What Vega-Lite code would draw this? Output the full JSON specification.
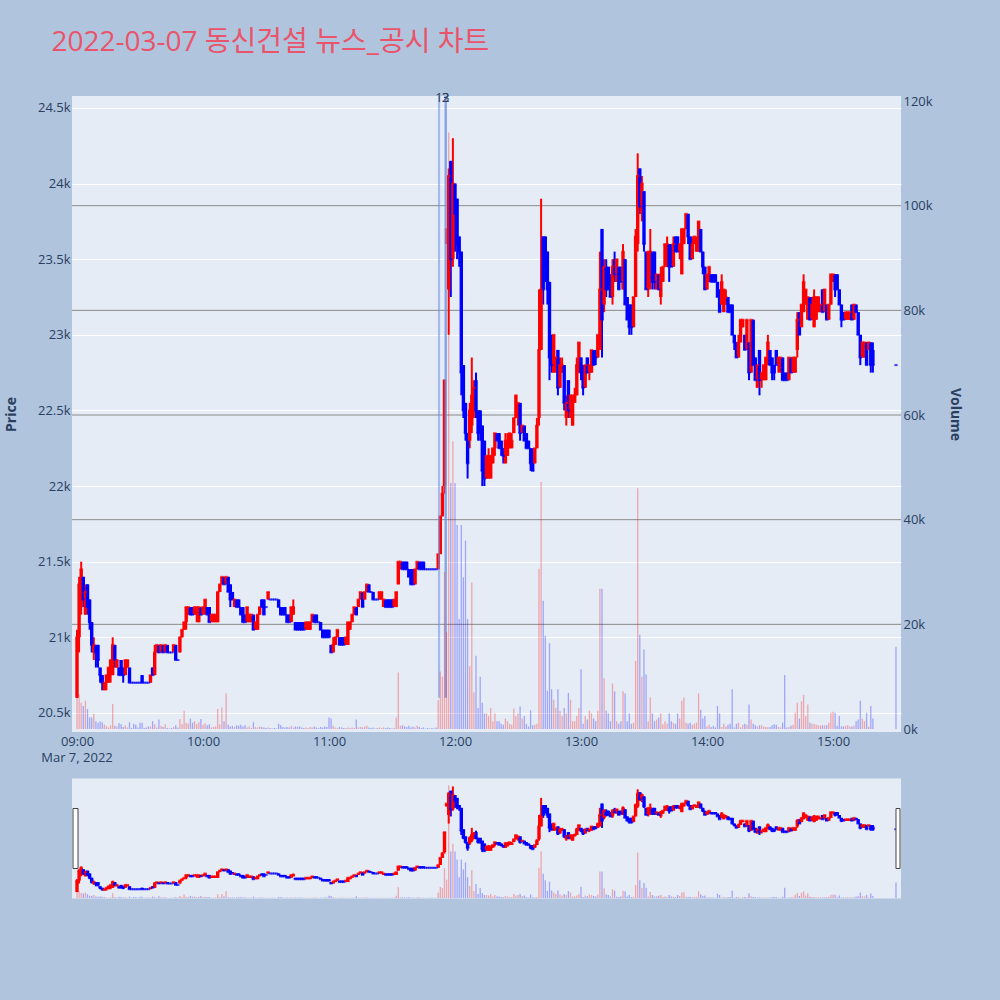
{
"$schema": "https://vega.github.io/schema/vega-lite/v6.json",
"background": "#B0C4DE",
"padding": {"left": 4, "top": 29, "right": 60, "bottom": 110},
"title": {"text": "2022-03-07 동신건설 뉴스_공시 차트", "anchor": "start", "frame": "bounds", "font": "Open Sans, Noto Sans CJK KR, sans-serif", "fontSize": 28, "fontWeight": "normal", "color": "#E9546A", "dx": 47, "dy": -1, "offset": 34},
"data": {"format": {"parse": {"t": "date:'%Y-%m-%d %H:%M'"}}, "values": [
{"t":"2022-03-07 09:00","o":20600,"h":21050,"l":20600,"c":21000,"v":12000},
{"t":"2022-03-07 09:01","o":21000,"h":21400,"l":20900,"c":21350,"v":6700},
{"t":"2022-03-07 09:02","o":21200,"h":21500,"l":21150,"c":21450,"v":5000},
{"t":"2022-03-07 09:03","o":21400,"h":21400,"l":21200,"c":21250,"v":4400},
{"t":"2022-03-07 09:04","o":21150,"h":21350,"l":21150,"c":21300,"v":5400},
{"t":"2022-03-07 09:05","o":21350,"h":21350,"l":21150,"c":21200,"v":3800},
{"t":"2022-03-07 09:06","o":21250,"h":21250,"l":21050,"c":21100,"v":2200},
{"t":"2022-03-07 09:07","o":21100,"h":21100,"l":20900,"c":20950,"v":2200},
{"t":"2022-03-07 09:08","o":20900,"h":21000,"l":20850,"c":20950,"v":2900},
{"t":"2022-03-07 09:09","o":20950,"h":20950,"l":20800,"c":20900,"v":1500},
{"t":"2022-03-07 09:10","o":20950,"h":20950,"l":20800,"c":20850,"v":1200},
{"t":"2022-03-07 09:11","o":20800,"h":20800,"l":20700,"c":20750,"v":1500},
{"t":"2022-03-07 09:12","o":20750,"h":20750,"l":20650,"c":20700,"v":1300},
{"t":"2022-03-07 09:13","o":20650,"h":20700,"l":20650,"c":20700,"v":900},
{"t":"2022-03-07 09:14","o":20700,"h":20750,"l":20650,"c":20750,"v":600},
{"t":"2022-03-07 09:15","o":20700,"h":20800,"l":20700,"c":20800,"v":300},
{"t":"2022-03-07 09:16","o":20750,"h":20850,"l":20700,"c":20850,"v":700},
{"t":"2022-03-07 09:17","o":20750,"h":21000,"l":20750,"c":20950,"v":4800},
{"t":"2022-03-07 09:18","o":20950,"h":20950,"l":20800,"c":20850,"v":600},
{"t":"2022-03-07 09:19","o":20800,"h":20850,"l":20800,"c":20850,"v":500},
{"t":"2022-03-07 09:20","o":20800,"h":20800,"l":20750,"c":20750,"v":1100},
{"t":"2022-03-07 09:21","o":20850,"h":20850,"l":20750,"c":20750,"v":900},
{"t":"2022-03-07 09:22","o":20800,"h":20800,"l":20700,"c":20750,"v":400},
{"t":"2022-03-07 09:23","o":20750,"h":20850,"l":20750,"c":20850,"v":700},
{"t":"2022-03-07 09:24","o":20800,"h":20850,"l":20800,"c":20850,"v":300},
{"t":"2022-03-07 09:25","o":20800,"h":20800,"l":20700,"c":20700,"v":1300},
{"t":"2022-03-07 09:26","o":20700,"h":20700,"l":20700,"c":20700,"v":200},
{"t":"2022-03-07 09:27","o":20700,"h":20700,"l":20700,"c":20700,"v":1000},
{"t":"2022-03-07 09:28","o":20700,"h":20700,"l":20700,"c":20700,"v":800},
{"t":"2022-03-07 09:29","o":20700,"h":20700,"l":20700,"c":20700,"v":300},
{"t":"2022-03-07 09:30","o":20700,"h":20700,"l":20700,"c":20700,"v":1200},
{"t":"2022-03-07 09:31","o":20750,"h":20750,"l":20700,"c":20700,"v":1200},
{"t":"2022-03-07 09:32","o":20700,"h":20700,"l":20700,"c":20700,"v":200},
{"t":"2022-03-07 09:33","o":20700,"h":20700,"l":20700,"c":20700,"v":300},
{"t":"2022-03-07 09:34","o":20700,"h":20700,"l":20700,"c":20700,"v":500},
{"t":"2022-03-07 09:35","o":20700,"h":20750,"l":20700,"c":20750,"v":500},
{"t":"2022-03-07 09:36","o":20800,"h":20800,"l":20750,"c":20750,"v":1500},
{"t":"2022-03-07 09:37","o":20750,"h":20950,"l":20750,"c":20900,"v":900},
{"t":"2022-03-07 09:38","o":20900,"h":20950,"l":20900,"c":20950,"v":300},
{"t":"2022-03-07 09:39","o":20950,"h":20950,"l":20900,"c":20900,"v":1800},
{"t":"2022-03-07 09:40","o":20900,"h":20950,"l":20900,"c":20950,"v":600},
{"t":"2022-03-07 09:41","o":20950,"h":20950,"l":20900,"c":20900,"v":400},
{"t":"2022-03-07 09:42","o":20900,"h":20950,"l":20900,"c":20950,"v":900},
{"t":"2022-03-07 09:43","o":20950,"h":20950,"l":20900,"c":20900,"v":200},
{"t":"2022-03-07 09:44","o":20900,"h":20900,"l":20900,"c":20900,"v":100},
{"t":"2022-03-07 09:45","o":20900,"h":20900,"l":20900,"c":20900,"v":200},
{"t":"2022-03-07 09:46","o":20900,"h":20950,"l":20900,"c":20950,"v":400},
{"t":"2022-03-07 09:47","o":20950,"h":20950,"l":20850,"c":20850,"v":700},
{"t":"2022-03-07 09:48","o":20850,"h":20850,"l":20850,"c":20850,"v":300},
{"t":"2022-03-07 09:49","o":20900,"h":21000,"l":20900,"c":21000,"v":1900},
{"t":"2022-03-07 09:50","o":21000,"h":21050,"l":21000,"c":21050,"v":900},
{"t":"2022-03-07 09:51","o":21050,"h":21100,"l":21050,"c":21100,"v":3500},
{"t":"2022-03-07 09:52","o":21100,"h":21200,"l":21050,"c":21200,"v":1200},
{"t":"2022-03-07 09:53","o":21150,"h":21200,"l":21150,"c":21200,"v":1000},
{"t":"2022-03-07 09:54","o":21200,"h":21200,"l":21150,"c":21150,"v":2000},
{"t":"2022-03-07 09:55","o":21200,"h":21200,"l":21150,"c":21150,"v":1200},
{"t":"2022-03-07 09:56","o":21150,"h":21200,"l":21150,"c":21200,"v":1500},
{"t":"2022-03-07 09:57","o":21150,"h":21200,"l":21100,"c":21200,"v":900},
{"t":"2022-03-07 09:58","o":21100,"h":21200,"l":21100,"c":21200,"v":1300},
{"t":"2022-03-07 09:59","o":21200,"h":21200,"l":21150,"c":21150,"v":1900},
{"t":"2022-03-07 10:00","o":21150,"h":21200,"l":21150,"c":21200,"v":800},
{"t":"2022-03-07 10:01","o":21200,"h":21250,"l":21150,"c":21250,"v":1100},
{"t":"2022-03-07 10:02","o":21200,"h":21200,"l":21150,"c":21150,"v":700},
{"t":"2022-03-07 10:03","o":21200,"h":21200,"l":21100,"c":21100,"v":900},
{"t":"2022-03-07 10:04","o":21100,"h":21150,"l":21100,"c":21150,"v":300},
{"t":"2022-03-07 10:05","o":21100,"h":21150,"l":21100,"c":21150,"v":400},
{"t":"2022-03-07 10:06","o":21100,"h":21150,"l":21100,"c":21150,"v":500},
{"t":"2022-03-07 10:07","o":21100,"h":21300,"l":21100,"c":21300,"v":3800},
{"t":"2022-03-07 10:08","o":21300,"h":21350,"l":21300,"c":21350,"v":900},
{"t":"2022-03-07 10:09","o":21350,"h":21400,"l":21350,"c":21400,"v":4100},
{"t":"2022-03-07 10:10","o":21400,"h":21400,"l":21350,"c":21350,"v":1500},
{"t":"2022-03-07 10:11","o":21350,"h":21400,"l":21350,"c":21400,"v":6800},
{"t":"2022-03-07 10:12","o":21400,"h":21400,"l":21300,"c":21300,"v":800},
{"t":"2022-03-07 10:13","o":21350,"h":21350,"l":21200,"c":21250,"v":500},
{"t":"2022-03-07 10:14","o":21300,"h":21300,"l":21250,"c":21250,"v":600},
{"t":"2022-03-07 10:15","o":21200,"h":21250,"l":21200,"c":21250,"v":400},
{"t":"2022-03-07 10:16","o":21250,"h":21250,"l":21200,"c":21200,"v":700},
{"t":"2022-03-07 10:17","o":21250,"h":21250,"l":21200,"c":21200,"v":600},
{"t":"2022-03-07 10:18","o":21200,"h":21200,"l":21150,"c":21150,"v":800},
{"t":"2022-03-07 10:19","o":21200,"h":21200,"l":21100,"c":21100,"v":500},
{"t":"2022-03-07 10:20","o":21150,"h":21150,"l":21100,"c":21100,"v":700},
{"t":"2022-03-07 10:21","o":21100,"h":21200,"l":21100,"c":21200,"v":300},
{"t":"2022-03-07 10:22","o":21100,"h":21150,"l":21100,"c":21150,"v":500},
{"t":"2022-03-07 10:23","o":21100,"h":21150,"l":21100,"c":21150,"v":200},
{"t":"2022-03-07 10:24","o":21150,"h":21150,"l":21050,"c":21050,"v":1300},
{"t":"2022-03-07 10:25","o":21050,"h":21100,"l":21050,"c":21100,"v":400},
{"t":"2022-03-07 10:26","o":21050,"h":21150,"l":21050,"c":21150,"v":300},
{"t":"2022-03-07 10:27","o":21150,"h":21200,"l":21150,"c":21200,"v":500},
{"t":"2022-03-07 10:28","o":21250,"h":21250,"l":21200,"c":21200,"v":400},
{"t":"2022-03-07 10:29","o":21250,"h":21250,"l":21150,"c":21150,"v":300},
{"t":"2022-03-07 10:30","o":21200,"h":21200,"l":21200,"c":21200,"v":200},
{"t":"2022-03-07 10:31","o":21250,"h":21300,"l":21250,"c":21300,"v":300},
{"t":"2022-03-07 10:32","o":21250,"h":21250,"l":21250,"c":21250,"v":200},
{"t":"2022-03-07 10:33","o":21250,"h":21250,"l":21250,"c":21250,"v":100},
{"t":"2022-03-07 10:34","o":21250,"h":21250,"l":21250,"c":21250,"v":200},
{"t":"2022-03-07 10:35","o":21250,"h":21250,"l":21250,"c":21250,"v":100},
{"t":"2022-03-07 10:36","o":21250,"h":21250,"l":21200,"c":21200,"v":1000},
{"t":"2022-03-07 10:37","o":21200,"h":21200,"l":21150,"c":21150,"v":700},
{"t":"2022-03-07 10:38","o":21200,"h":21200,"l":21150,"c":21150,"v":400},
{"t":"2022-03-07 10:39","o":21200,"h":21200,"l":21150,"c":21150,"v":300},
{"t":"2022-03-07 10:40","o":21150,"h":21150,"l":21100,"c":21100,"v":400},
{"t":"2022-03-07 10:41","o":21150,"h":21150,"l":21100,"c":21100,"v":300},
{"t":"2022-03-07 10:42","o":21100,"h":21200,"l":21100,"c":21200,"v":600},
{"t":"2022-03-07 10:43","o":21150,"h":21250,"l":21150,"c":21200,"v":300},
{"t":"2022-03-07 10:44","o":21100,"h":21100,"l":21050,"c":21050,"v":500},
{"t":"2022-03-07 10:45","o":21100,"h":21100,"l":21050,"c":21050,"v":400},
{"t":"2022-03-07 10:46","o":21100,"h":21100,"l":21050,"c":21050,"v":500},
{"t":"2022-03-07 10:47","o":21100,"h":21100,"l":21050,"c":21050,"v":300},
{"t":"2022-03-07 10:48","o":21100,"h":21100,"l":21050,"c":21050,"v":200},
{"t":"2022-03-07 10:49","o":21050,"h":21100,"l":21050,"c":21100,"v":300},
{"t":"2022-03-07 10:50","o":21050,"h":21100,"l":21050,"c":21100,"v":200},
{"t":"2022-03-07 10:51","o":21050,"h":21100,"l":21050,"c":21100,"v":400},
{"t":"2022-03-07 10:52","o":21100,"h":21150,"l":21100,"c":21150,"v":300},
{"t":"2022-03-07 10:53","o":21150,"h":21150,"l":21100,"c":21100,"v":500},
{"t":"2022-03-07 10:54","o":21150,"h":21150,"l":21100,"c":21100,"v":300},
{"t":"2022-03-07 10:55","o":21100,"h":21100,"l":21100,"c":21100,"v":200},
{"t":"2022-03-07 10:56","o":21100,"h":21100,"l":21050,"c":21050,"v":400},
{"t":"2022-03-07 10:57","o":21050,"h":21050,"l":21000,"c":21000,"v":300},
{"t":"2022-03-07 10:58","o":21050,"h":21050,"l":21000,"c":21000,"v":500},
{"t":"2022-03-07 10:59","o":21050,"h":21050,"l":21000,"c":21000,"v":400},
{"t":"2022-03-07 11:00","o":21050,"h":21050,"l":21000,"c":21000,"v":2200},
{"t":"2022-03-07 11:01","o":20950,"h":20950,"l":20900,"c":20900,"v":2000},
{"t":"2022-03-07 11:02","o":20900,"h":21000,"l":20900,"c":20950,"v":600},
{"t":"2022-03-07 11:03","o":20950,"h":21000,"l":20950,"c":21000,"v":300},
{"t":"2022-03-07 11:04","o":21000,"h":21050,"l":21000,"c":21050,"v":200},
{"t":"2022-03-07 11:05","o":21000,"h":21000,"l":20950,"c":20950,"v":400},
{"t":"2022-03-07 11:06","o":21000,"h":21000,"l":20950,"c":20950,"v":300},
{"t":"2022-03-07 11:07","o":21000,"h":21000,"l":20950,"c":20950,"v":200},
{"t":"2022-03-07 11:08","o":20950,"h":21000,"l":20950,"c":21000,"v":200},
{"t":"2022-03-07 11:09","o":20950,"h":21100,"l":20950,"c":21100,"v":300},
{"t":"2022-03-07 11:10","o":21050,"h":21100,"l":21050,"c":21100,"v":200},
{"t":"2022-03-07 11:11","o":21100,"h":21150,"l":21100,"c":21150,"v":300},
{"t":"2022-03-07 11:12","o":21150,"h":21200,"l":21150,"c":21200,"v":200},
{"t":"2022-03-07 11:13","o":21200,"h":21200,"l":21150,"c":21150,"v":1800},
{"t":"2022-03-07 11:14","o":21200,"h":21250,"l":21200,"c":21250,"v":300},
{"t":"2022-03-07 11:15","o":21250,"h":21300,"l":21250,"c":21300,"v":400},
{"t":"2022-03-07 11:16","o":21300,"h":21300,"l":21200,"c":21200,"v":300},
{"t":"2022-03-07 11:17","o":21250,"h":21300,"l":21250,"c":21300,"v":500},
{"t":"2022-03-07 11:18","o":21300,"h":21350,"l":21300,"c":21350,"v":600},
{"t":"2022-03-07 11:19","o":21350,"h":21350,"l":21300,"c":21300,"v":300},
{"t":"2022-03-07 11:20","o":21300,"h":21300,"l":21300,"c":21300,"v":200},
{"t":"2022-03-07 11:21","o":21300,"h":21300,"l":21250,"c":21250,"v":300},
{"t":"2022-03-07 11:22","o":21250,"h":21250,"l":21250,"c":21250,"v":100},
{"t":"2022-03-07 11:23","o":21250,"h":21250,"l":21250,"c":21250,"v":200},
{"t":"2022-03-07 11:24","o":21250,"h":21300,"l":21250,"c":21300,"v":300},
{"t":"2022-03-07 11:25","o":21250,"h":21300,"l":21250,"c":21300,"v":200},
{"t":"2022-03-07 11:26","o":21200,"h":21250,"l":21200,"c":21250,"v":300},
{"t":"2022-03-07 11:27","o":21250,"h":21250,"l":21200,"c":21200,"v":200},
{"t":"2022-03-07 11:28","o":21250,"h":21250,"l":21200,"c":21200,"v":300},
{"t":"2022-03-07 11:29","o":21250,"h":21250,"l":21200,"c":21200,"v":200},
{"t":"2022-03-07 11:30","o":21250,"h":21250,"l":21200,"c":21200,"v":100},
{"t":"2022-03-07 11:31","o":21200,"h":21250,"l":21200,"c":21250,"v":200},
{"t":"2022-03-07 11:32","o":21200,"h":21300,"l":21200,"c":21300,"v":2200},
{"t":"2022-03-07 11:33","o":21350,"h":21500,"l":21350,"c":21500,"v":10800},
{"t":"2022-03-07 11:34","o":21450,"h":21500,"l":21450,"c":21500,"v":600},
{"t":"2022-03-07 11:35","o":21500,"h":21500,"l":21450,"c":21450,"v":700},
{"t":"2022-03-07 11:36","o":21500,"h":21500,"l":21450,"c":21450,"v":500},
{"t":"2022-03-07 11:37","o":21500,"h":21500,"l":21450,"c":21450,"v":400},
{"t":"2022-03-07 11:38","o":21450,"h":21450,"l":21400,"c":21400,"v":600},
{"t":"2022-03-07 11:39","o":21450,"h":21450,"l":21350,"c":21350,"v":300},
{"t":"2022-03-07 11:40","o":21450,"h":21450,"l":21350,"c":21350,"v":500},
{"t":"2022-03-07 11:41","o":21350,"h":21450,"l":21350,"c":21450,"v":300},
{"t":"2022-03-07 11:42","o":21450,"h":21500,"l":21450,"c":21500,"v":600},
{"t":"2022-03-07 11:43","o":21500,"h":21500,"l":21450,"c":21450,"v":400},
{"t":"2022-03-07 11:44","o":21500,"h":21500,"l":21450,"c":21450,"v":200},
{"t":"2022-03-07 11:45","o":21500,"h":21500,"l":21450,"c":21450,"v":300},
{"t":"2022-03-07 11:46","o":21450,"h":21450,"l":21450,"c":21450,"v":100},
{"t":"2022-03-07 11:47","o":21450,"h":21450,"l":21450,"c":21450,"v":200},
{"t":"2022-03-07 11:48","o":21450,"h":21450,"l":21450,"c":21450,"v":100},
{"t":"2022-03-07 11:49","o":21450,"h":21450,"l":21450,"c":21450,"v":200},
{"t":"2022-03-07 11:50","o":21450,"h":21450,"l":21450,"c":21450,"v":100},
{"t":"2022-03-07 11:51","o":21450,"h":21450,"l":21450,"c":21450,"v":300},
{"t":"2022-03-07 11:52","o":21450,"h":21550,"l":21450,"c":21550,"v":5500},
{"t":"2022-03-07 11:53","o":21550,"h":21800,"l":21550,"c":21800,"v":11000},
{"t":"2022-03-07 11:54","o":21800,"h":22000,"l":21800,"c":21950,"v":10000},
{"t":"2022-03-07 11:55","o":22000,"h":22700,"l":21950,"c":22700,"v":30000},
{"t":"2022-03-07 11:56","o":23600,"h":23700,"l":23600,"c":23700,"v":18500},
{"t":"2022-03-07 11:57","o":23300,"h":24100,"l":23000,"c":24050,"v":114000},
{"t":"2022-03-07 11:58","o":24150,"h":24150,"l":23250,"c":23500,"v":47000},
{"t":"2022-03-07 11:59","o":23500,"h":24300,"l":23450,"c":24000,"v":55000},
{"t":"2022-03-07 12:00","o":24000,"h":24000,"l":23550,"c":23800,"v":47000},
{"t":"2022-03-07 12:01","o":23900,"h":23900,"l":23500,"c":23600,"v":39000},
{"t":"2022-03-07 12:02","o":23650,"h":23650,"l":23450,"c":23550,"v":21000},
{"t":"2022-03-07 12:03","o":23550,"h":23550,"l":22600,"c":22750,"v":39000},
{"t":"2022-03-07 12:04","o":22800,"h":22800,"l":22450,"c":22500,"v":29000},
{"t":"2022-03-07 12:05","o":22550,"h":22550,"l":22300,"c":22350,"v":36000},
{"t":"2022-03-07 12:06","o":22350,"h":22350,"l":22050,"c":22150,"v":21000},
{"t":"2022-03-07 12:07","o":22300,"h":22550,"l":22250,"c":22500,"v":12000},
{"t":"2022-03-07 12:08","o":22400,"h":22850,"l":22350,"c":22600,"v":28000},
{"t":"2022-03-07 12:09","o":22500,"h":22700,"l":22450,"c":22650,"v":7000},
{"t":"2022-03-07 12:10","o":22700,"h":22750,"l":22450,"c":22500,"v":14000},
{"t":"2022-03-07 12:11","o":22500,"h":22500,"l":22300,"c":22350,"v":4000},
{"t":"2022-03-07 12:12","o":22500,"h":22500,"l":22300,"c":22350,"v":10000},
{"t":"2022-03-07 12:13","o":22400,"h":22400,"l":22000,"c":22100,"v":5000},
{"t":"2022-03-07 12:14","o":22300,"h":22300,"l":22000,"c":22050,"v":3000},
{"t":"2022-03-07 12:15","o":22050,"h":22200,"l":22050,"c":22200,"v":3000},
{"t":"2022-03-07 12:16","o":22050,"h":22250,"l":22050,"c":22200,"v":2500},
{"t":"2022-03-07 12:17","o":22050,"h":22200,"l":22050,"c":22200,"v":4000},
{"t":"2022-03-07 12:18","o":22150,"h":22250,"l":22150,"c":22250,"v":1500},
{"t":"2022-03-07 12:19","o":22250,"h":22350,"l":22200,"c":22350,"v":3000},
{"t":"2022-03-07 12:20","o":22350,"h":22350,"l":22300,"c":22300,"v":1500},
{"t":"2022-03-07 12:21","o":22350,"h":22350,"l":22250,"c":22250,"v":1500},
{"t":"2022-03-07 12:22","o":22300,"h":22300,"l":22200,"c":22250,"v":1000},
{"t":"2022-03-07 12:23","o":22250,"h":22250,"l":22150,"c":22200,"v":800},
{"t":"2022-03-07 12:24","o":22150,"h":22350,"l":22150,"c":22300,"v":2000},
{"t":"2022-03-07 12:25","o":22200,"h":22350,"l":22200,"c":22300,"v":1500},
{"t":"2022-03-07 12:26","o":22250,"h":22350,"l":22250,"c":22350,"v":1000},
{"t":"2022-03-07 12:27","o":22250,"h":22350,"l":22250,"c":22300,"v":800},
{"t":"2022-03-07 12:28","o":22350,"h":22450,"l":22350,"c":22450,"v":3900},
{"t":"2022-03-07 12:29","o":22450,"h":22600,"l":22450,"c":22600,"v":2500},
{"t":"2022-03-07 12:30","o":22450,"h":22550,"l":22400,"c":22550,"v":3000},
{"t":"2022-03-07 12:31","o":22550,"h":22550,"l":22300,"c":22350,"v":4300},
{"t":"2022-03-07 12:32","o":22350,"h":22400,"l":22350,"c":22400,"v":2000},
{"t":"2022-03-07 12:33","o":22400,"h":22400,"l":22300,"c":22300,"v":2500},
{"t":"2022-03-07 12:34","o":22350,"h":22350,"l":22250,"c":22250,"v":1000},
{"t":"2022-03-07 12:35","o":22300,"h":22300,"l":22250,"c":22250,"v":500},
{"t":"2022-03-07 12:36","o":22250,"h":22250,"l":22100,"c":22150,"v":3600},
{"t":"2022-03-07 12:37","o":22200,"h":22250,"l":22100,"c":22100,"v":700},
{"t":"2022-03-07 12:38","o":22150,"h":22250,"l":22150,"c":22250,"v":800},
{"t":"2022-03-07 12:39","o":22250,"h":22450,"l":22250,"c":22400,"v":1000},
{"t":"2022-03-07 12:40","o":22450,"h":23300,"l":22400,"c":22900,"v":30600},
{"t":"2022-03-07 12:41","o":22900,"h":23900,"l":22900,"c":23300,"v":47200},
{"t":"2022-03-07 12:42","o":23650,"h":23650,"l":23200,"c":23300,"v":24500},
{"t":"2022-03-07 12:43","o":23650,"h":23650,"l":23350,"c":23450,"v":17800},
{"t":"2022-03-07 12:44","o":23550,"h":23550,"l":23200,"c":23300,"v":7300},
{"t":"2022-03-07 12:45","o":23350,"h":23350,"l":22700,"c":22850,"v":16400},
{"t":"2022-03-07 12:46","o":23000,"h":23000,"l":22750,"c":22800,"v":7600},
{"t":"2022-03-07 12:47","o":22750,"h":23000,"l":22750,"c":23000,"v":5600},
{"t":"2022-03-07 12:48","o":22800,"h":22850,"l":22750,"c":22850,"v":4000},
{"t":"2022-03-07 12:49","o":22900,"h":22900,"l":22600,"c":22650,"v":7600},
{"t":"2022-03-07 12:50","o":22650,"h":22850,"l":22650,"c":22800,"v":3500},
{"t":"2022-03-07 12:51","o":22750,"h":22850,"l":22750,"c":22800,"v":2500},
{"t":"2022-03-07 12:52","o":22800,"h":22800,"l":22500,"c":22550,"v":4000},
{"t":"2022-03-07 12:53","o":22450,"h":22600,"l":22400,"c":22550,"v":3000},
{"t":"2022-03-07 12:54","o":22700,"h":22700,"l":22450,"c":22500,"v":6900},
{"t":"2022-03-07 12:55","o":22450,"h":22600,"l":22450,"c":22600,"v":5600},
{"t":"2022-03-07 12:56","o":22400,"h":22600,"l":22400,"c":22600,"v":1500},
{"t":"2022-03-07 12:57","o":22550,"h":22650,"l":22550,"c":22600,"v":1500},
{"t":"2022-03-07 12:58","o":22600,"h":22850,"l":22600,"c":22800,"v":2500},
{"t":"2022-03-07 12:59","o":22750,"h":22950,"l":22750,"c":22950,"v":4000},
{"t":"2022-03-07 13:00","o":22850,"h":22850,"l":22700,"c":22750,"v":11400},
{"t":"2022-03-07 13:01","o":22800,"h":22800,"l":22600,"c":22650,"v":1000},
{"t":"2022-03-07 13:02","o":22650,"h":22800,"l":22650,"c":22800,"v":2500},
{"t":"2022-03-07 13:03","o":22850,"h":22850,"l":22750,"c":22750,"v":1800},
{"t":"2022-03-07 13:04","o":22750,"h":22800,"l":22700,"c":22800,"v":3500},
{"t":"2022-03-07 13:05","o":22750,"h":22900,"l":22750,"c":22900,"v":3000},
{"t":"2022-03-07 13:06","o":22900,"h":22900,"l":22800,"c":22800,"v":2000},
{"t":"2022-03-07 13:07","o":22900,"h":22900,"l":22800,"c":22850,"v":1500},
{"t":"2022-03-07 13:08","o":22850,"h":23000,"l":22850,"c":23000,"v":3500},
{"t":"2022-03-07 13:09","o":22900,"h":23550,"l":22900,"c":23300,"v":26800},
{"t":"2022-03-07 13:10","o":23700,"h":23700,"l":22850,"c":23100,"v":26800},
{"t":"2022-03-07 13:11","o":23200,"h":23500,"l":23150,"c":23450,"v":9700},
{"t":"2022-03-07 13:12","o":23450,"h":23500,"l":23250,"c":23300,"v":3500},
{"t":"2022-03-07 13:13","o":23450,"h":23450,"l":23300,"c":23300,"v":3000},
{"t":"2022-03-07 13:14","o":23400,"h":23400,"l":23250,"c":23250,"v":1500},
{"t":"2022-03-07 13:15","o":23250,"h":23500,"l":23200,"c":23450,"v":8700},
{"t":"2022-03-07 13:16","o":23500,"h":23550,"l":23350,"c":23400,"v":7200},
{"t":"2022-03-07 13:17","o":23350,"h":23500,"l":23350,"c":23500,"v":1500},
{"t":"2022-03-07 13:18","o":23450,"h":23450,"l":23300,"c":23300,"v":1000},
{"t":"2022-03-07 13:19","o":23450,"h":23450,"l":23350,"c":23350,"v":1500},
{"t":"2022-03-07 13:20","o":23300,"h":23600,"l":23300,"c":23550,"v":7200},
{"t":"2022-03-07 13:21","o":23500,"h":23500,"l":23200,"c":23200,"v":6800},
{"t":"2022-03-07 13:22","o":23250,"h":23250,"l":23100,"c":23100,"v":1500},
{"t":"2022-03-07 13:23","o":23200,"h":23200,"l":23000,"c":23050,"v":3000},
{"t":"2022-03-07 13:24","o":23200,"h":23200,"l":23000,"c":23050,"v":1000},
{"t":"2022-03-07 13:25","o":23050,"h":23250,"l":23050,"c":23250,"v":1200},
{"t":"2022-03-07 13:26","o":23250,"h":23700,"l":23250,"c":23650,"v":13000},
{"t":"2022-03-07 13:27","o":23600,"h":24200,"l":23550,"c":24050,"v":46000},
{"t":"2022-03-07 13:28","o":24100,"h":24100,"l":23800,"c":23850,"v":18000},
{"t":"2022-03-07 13:29","o":23800,"h":24050,"l":23750,"c":24000,"v":10000},
{"t":"2022-03-07 13:30","o":23950,"h":23950,"l":23550,"c":23600,"v":15200},
{"t":"2022-03-07 13:31","o":23550,"h":23550,"l":23300,"c":23300,"v":10400},
{"t":"2022-03-07 13:32","o":23300,"h":23550,"l":23250,"c":23550,"v":1500},
{"t":"2022-03-07 13:33","o":23400,"h":23700,"l":23300,"c":23550,"v":6000},
{"t":"2022-03-07 13:34","o":23550,"h":23550,"l":23300,"c":23350,"v":3000},
{"t":"2022-03-07 13:35","o":23550,"h":23550,"l":23300,"c":23350,"v":1500},
{"t":"2022-03-07 13:36","o":23300,"h":23400,"l":23300,"c":23400,"v":1800},
{"t":"2022-03-07 13:37","o":23400,"h":23400,"l":23300,"c":23300,"v":2200},
{"t":"2022-03-07 13:38","o":23250,"h":23450,"l":23200,"c":23400,"v":3000},
{"t":"2022-03-07 13:39","o":23350,"h":23450,"l":23350,"c":23450,"v":900},
{"t":"2022-03-07 13:40","o":23450,"h":23600,"l":23450,"c":23600,"v":1500},
{"t":"2022-03-07 13:41","o":23450,"h":23650,"l":23450,"c":23600,"v":1000},
{"t":"2022-03-07 13:42","o":23600,"h":23600,"l":23350,"c":23450,"v":3000},
{"t":"2022-03-07 13:43","o":23600,"h":23600,"l":23450,"c":23450,"v":1500},
{"t":"2022-03-07 13:44","o":23450,"h":23650,"l":23450,"c":23600,"v":1200},
{"t":"2022-03-07 13:45","o":23650,"h":23650,"l":23550,"c":23550,"v":1000},
{"t":"2022-03-07 13:46","o":23650,"h":23650,"l":23550,"c":23550,"v":3000},
{"t":"2022-03-07 13:47","o":23550,"h":23600,"l":23500,"c":23600,"v":2000},
{"t":"2022-03-07 13:48","o":23400,"h":23700,"l":23400,"c":23700,"v":5400},
{"t":"2022-03-07 13:49","o":23600,"h":23700,"l":23600,"c":23700,"v":6000},
{"t":"2022-03-07 13:50","o":23700,"h":23800,"l":23700,"c":23800,"v":1200},
{"t":"2022-03-07 13:51","o":23800,"h":23800,"l":23600,"c":23650,"v":1000},
{"t":"2022-03-07 13:52","o":23650,"h":23650,"l":23500,"c":23500,"v":1200},
{"t":"2022-03-07 13:53","o":23500,"h":23650,"l":23500,"c":23600,"v":800},
{"t":"2022-03-07 13:54","o":23600,"h":23650,"l":23600,"c":23650,"v":1000},
{"t":"2022-03-07 13:55","o":23550,"h":23650,"l":23550,"c":23600,"v":1200},
{"t":"2022-03-07 13:56","o":23550,"h":23750,"l":23550,"c":23750,"v":6800},
{"t":"2022-03-07 13:57","o":23700,"h":23700,"l":23550,"c":23550,"v":3700},
{"t":"2022-03-07 13:58","o":23550,"h":23550,"l":23400,"c":23450,"v":2000},
{"t":"2022-03-07 13:59","o":23450,"h":23450,"l":23300,"c":23300,"v":2500},
{"t":"2022-03-07 14:00","o":23300,"h":23400,"l":23300,"c":23400,"v":500},
{"t":"2022-03-07 14:01","o":23350,"h":23450,"l":23350,"c":23450,"v":800},
{"t":"2022-03-07 14:02","o":23400,"h":23400,"l":23350,"c":23350,"v":400},
{"t":"2022-03-07 14:03","o":23400,"h":23400,"l":23350,"c":23350,"v":600},
{"t":"2022-03-07 14:04","o":23400,"h":23400,"l":23350,"c":23350,"v":300},
{"t":"2022-03-07 14:05","o":23350,"h":23350,"l":23250,"c":23250,"v":4400},
{"t":"2022-03-07 14:06","o":23300,"h":23300,"l":23150,"c":23150,"v":3000},
{"t":"2022-03-07 14:07","o":23200,"h":23400,"l":23200,"c":23350,"v":400},
{"t":"2022-03-07 14:08","o":23150,"h":23300,"l":23150,"c":23300,"v":1000},
{"t":"2022-03-07 14:09","o":23200,"h":23300,"l":23200,"c":23250,"v":500},
{"t":"2022-03-07 14:10","o":23250,"h":23250,"l":23150,"c":23150,"v":800},
{"t":"2022-03-07 14:11","o":23200,"h":23200,"l":23150,"c":23150,"v":1000},
{"t":"2022-03-07 14:12","o":23200,"h":23200,"l":23000,"c":23000,"v":7600},
{"t":"2022-03-07 14:13","o":23000,"h":23000,"l":22900,"c":22950,"v":300},
{"t":"2022-03-07 14:14","o":22950,"h":22950,"l":22850,"c":22850,"v":1000},
{"t":"2022-03-07 14:15","o":22850,"h":23000,"l":22850,"c":22950,"v":1200},
{"t":"2022-03-07 14:16","o":22950,"h":23100,"l":22950,"c":23100,"v":300},
{"t":"2022-03-07 14:17","o":23050,"h":23100,"l":23050,"c":23100,"v":800},
{"t":"2022-03-07 14:18","o":23000,"h":23000,"l":22900,"c":22900,"v":1000},
{"t":"2022-03-07 14:19","o":22900,"h":23100,"l":22900,"c":23100,"v":800},
{"t":"2022-03-07 14:20","o":22950,"h":22950,"l":22700,"c":22750,"v":4700},
{"t":"2022-03-07 14:21","o":22750,"h":23100,"l":22750,"c":23100,"v":1800},
{"t":"2022-03-07 14:22","o":23100,"h":23100,"l":22800,"c":22800,"v":1000},
{"t":"2022-03-07 14:23","o":22850,"h":22850,"l":22700,"c":22700,"v":700},
{"t":"2022-03-07 14:24","o":22650,"h":22800,"l":22650,"c":22800,"v":500},
{"t":"2022-03-07 14:25","o":22900,"h":22900,"l":22600,"c":22700,"v":700},
{"t":"2022-03-07 14:26","o":22700,"h":22750,"l":22650,"c":22750,"v":700},
{"t":"2022-03-07 14:27","o":22700,"h":22800,"l":22700,"c":22800,"v":500},
{"t":"2022-03-07 14:28","o":22700,"h":22850,"l":22700,"c":22850,"v":400},
{"t":"2022-03-07 14:29","o":22800,"h":23000,"l":22800,"c":22950,"v":400},
{"t":"2022-03-07 14:30","o":22900,"h":22900,"l":22800,"c":22800,"v":400},
{"t":"2022-03-07 14:31","o":22850,"h":22850,"l":22700,"c":22750,"v":700},
{"t":"2022-03-07 14:32","o":22800,"h":22800,"l":22700,"c":22750,"v":900},
{"t":"2022-03-07 14:33","o":22900,"h":22900,"l":22800,"c":22800,"v":800},
{"t":"2022-03-07 14:34","o":22800,"h":22850,"l":22750,"c":22850,"v":400},
{"t":"2022-03-07 14:35","o":22750,"h":22850,"l":22750,"c":22850,"v":300},
{"t":"2022-03-07 14:36","o":22850,"h":22850,"l":22700,"c":22700,"v":1200},
{"t":"2022-03-07 14:37","o":22750,"h":22750,"l":22700,"c":22700,"v":10300},
{"t":"2022-03-07 14:38","o":22750,"h":22750,"l":22700,"c":22700,"v":300},
{"t":"2022-03-07 14:39","o":22700,"h":22850,"l":22700,"c":22850,"v":400},
{"t":"2022-03-07 14:40","o":22850,"h":22850,"l":22750,"c":22750,"v":600},
{"t":"2022-03-07 14:41","o":22750,"h":22850,"l":22750,"c":22850,"v":800},
{"t":"2022-03-07 14:42","o":22750,"h":22850,"l":22750,"c":22850,"v":3100},
{"t":"2022-03-07 14:43","o":22900,"h":23150,"l":22850,"c":23100,"v":5000},
{"t":"2022-03-07 14:44","o":23150,"h":23150,"l":23000,"c":23000,"v":2000},
{"t":"2022-03-07 14:45","o":23050,"h":23200,"l":23050,"c":23200,"v":5300},
{"t":"2022-03-07 14:46","o":23150,"h":23400,"l":23150,"c":23350,"v":6500},
{"t":"2022-03-07 14:47","o":23200,"h":23300,"l":23200,"c":23300,"v":2500},
{"t":"2022-03-07 14:48","o":23100,"h":23250,"l":23100,"c":23250,"v":4700},
{"t":"2022-03-07 14:49","o":23250,"h":23250,"l":23100,"c":23100,"v":1200},
{"t":"2022-03-07 14:50","o":23100,"h":23250,"l":23100,"c":23200,"v":1000},
{"t":"2022-03-07 14:51","o":23050,"h":23300,"l":23050,"c":23250,"v":1000},
{"t":"2022-03-07 14:52","o":23100,"h":23250,"l":23100,"c":23250,"v":800},
{"t":"2022-03-07 14:53","o":23150,"h":23250,"l":23150,"c":23250,"v":700},
{"t":"2022-03-07 14:54","o":23150,"h":23200,"l":23150,"c":23200,"v":700},
{"t":"2022-03-07 14:55","o":23300,"h":23300,"l":23150,"c":23150,"v":700},
{"t":"2022-03-07 14:56","o":23150,"h":23300,"l":23150,"c":23300,"v":700},
{"t":"2022-03-07 14:57","o":23200,"h":23200,"l":23100,"c":23100,"v":700},
{"t":"2022-03-07 14:58","o":23100,"h":23200,"l":23100,"c":23200,"v":1200},
{"t":"2022-03-07 14:59","o":23200,"h":23400,"l":23200,"c":23400,"v":3100},
{"t":"2022-03-07 15:00","o":23350,"h":23400,"l":23350,"c":23400,"v":3300},
{"t":"2022-03-07 15:01","o":23400,"h":23400,"l":23250,"c":23300,"v":3100},
{"t":"2022-03-07 15:02","o":23400,"h":23400,"l":23300,"c":23300,"v":600},
{"t":"2022-03-07 15:03","o":23300,"h":23300,"l":23200,"c":23200,"v":2500},
{"t":"2022-03-07 15:04","o":23200,"h":23200,"l":23050,"c":23100,"v":500},
{"t":"2022-03-07 15:05","o":23150,"h":23150,"l":23100,"c":23100,"v":500},
{"t":"2022-03-07 15:06","o":23100,"h":23150,"l":23100,"c":23150,"v":600},
{"t":"2022-03-07 15:07","o":23100,"h":23150,"l":23100,"c":23150,"v":700},
{"t":"2022-03-07 15:08","o":23100,"h":23150,"l":23100,"c":23150,"v":500},
{"t":"2022-03-07 15:09","o":23200,"h":23200,"l":23100,"c":23100,"v":500},
{"t":"2022-03-07 15:10","o":23100,"h":23200,"l":23100,"c":23200,"v":600},
{"t":"2022-03-07 15:11","o":23200,"h":23200,"l":23150,"c":23150,"v":1500},
{"t":"2022-03-07 15:12","o":23150,"h":23150,"l":23000,"c":23000,"v":1800},
{"t":"2022-03-07 15:13","o":23000,"h":23000,"l":22800,"c":22850,"v":5400},
{"t":"2022-03-07 15:14","o":22850,"h":22950,"l":22850,"c":22950,"v":2000},
{"t":"2022-03-07 15:15","o":22850,"h":22950,"l":22850,"c":22950,"v":1500},
{"t":"2022-03-07 15:16","o":22950,"h":22950,"l":22800,"c":22800,"v":3100},
{"t":"2022-03-07 15:17","o":22900,"h":22950,"l":22900,"c":22950,"v":500},
{"t":"2022-03-07 15:18","o":22950,"h":22950,"l":22750,"c":22800,"v":4400},
{"t":"2022-03-07 15:19","o":22900,"h":22950,"l":22750,"c":22800,"v":2000},
{"t":"2022-03-07 15:30","o":22800,"h":22800,"l":22800,"c":22800,"v":15700}
]},
"spacing": 13.5,
"vconcat": [
{
"width": 829, "height": 636,
"layer": [
{"data": {"values": [{"g": 20000}, {"g": 40000}, {"g": 60000}, {"g": 80000}, {"g": 100000}]},
 "mark": {"type": "rule", "color": "#8a8a8a", "strokeWidth": 1},
 "encoding": {"y": {"field": "g", "type": "quantitative", "scale": {"domain": [-573, 120960], "nice": false, "zero": false}, "axis": null}}},
{"layer": [
{"mark": {"type": "rule", "strokeWidth": 2},
 "encoding": {
  "x": {"field": "t", "type": "temporal",
   "scale": {"padding": 0, "domain": [{"year": 2022, "month": 3, "date": 7, "hours": 8, "minutes": 57, "seconds": 37}, {"year": 2022, "month": 3, "date": 7, "hours": 15, "minutes": 32, "seconds": 23}]},
   "axis": {"title": null, "grid": false, "ticks": false, "domain": false, "labelFlush": false, "labelPadding": 3, "labelFontSize": 13, "labelColor": "#2a3f5f", "format": "%H:%M",
    "values": [{"year": 2022, "month": 3, "date": 7, "hours": 9}, {"year": 2022, "month": 3, "date": 7, "hours": 10}, {"year": 2022, "month": 3, "date": 7, "hours": 11}, {"year": 2022, "month": 3, "date": 7, "hours": 12}, {"year": 2022, "month": 3, "date": 7, "hours": 13}, {"year": 2022, "month": 3, "date": 7, "hours": 14}, {"year": 2022, "month": 3, "date": 7, "hours": 15}]}},
  "y": {"field": "l", "type": "quantitative", "scale": {"domain": [20374, 24579], "nice": false, "zero": false},
   "axis": {"title": "Price", "orient": "left", "values": [20500, 21000, 21500, 22000, 22500, 23000, 23500, 24000, 24500], "format": "~s", "grid": true, "gridColor": "#ffffff", "gridWidth": 1, "domain": false, "ticks": false, "labelPadding": 2, "labelFontSize": 13, "labelColor": "#2a3f5f", "titleFontSize": 14, "titleFontWeight": "bold", "titleColor": "#2a3f5f", "titlePadding": 19}},
  "y2": {"field": "h"},
  "color": {"condition": {"test": "datum.c > datum.o", "value": "#ff0000"}, "value": "#0000ff"}
 }},
{"mark": {"type": "bar", "size": 3.4},
 "encoding": {
  "x": {"field": "t", "type": "temporal"},
  "y": {"field": "o", "type": "quantitative"},
  "y2": {"field": "c"},
  "color": {"condition": {"test": "datum.c > datum.o", "value": "#ff0000"}, "value": "#0000ff"}
 }},
{"mark": {"type": "tick", "orient": "horizontal", "size": 3.4, "thickness": 2},
 "encoding": {
  "x": {"field": "t", "type": "temporal"},
  "y": {"field": "c", "type": "quantitative"},
  "color": {"condition": {"test": "datum.c > datum.o", "value": "#ff0000"}, "value": "#0000ff"}
 }},
{"data": {"values": [{"nt": "2022-03-07T11:52:24", "label": "1"}, {"nt": "2022-03-07T11:55:35", "label": "2"}, {"nt": "2022-03-07T11:55:35", "label": "3"}]},
 "mark": {"type": "rule", "strokeWidth": 2.2, "color": "#6d8fe6", "opacity": 0.55},
 "encoding": {"x": {"field": "nt", "type": "temporal"}, "y": {"datum": 20600}, "y2": {"datum": 24579}}},
{"data": {"values": [{"nt": "2022-03-07T11:52:24", "label": "1"}, {"nt": "2022-03-07T11:55:35", "label": "2"}, {"nt": "2022-03-07T11:55:35", "label": "3"}]},
 "mark": {"type": "text", "fontSize": 13, "color": "#2a3f5f", "baseline": "middle", "dy": 2},
 "encoding": {"x": {"field": "nt", "type": "temporal"}, "y": {"datum": 24579}, "text": {"field": "label"}}},
{"data": {"values": [{"mt": "2022-03-07T09:00:00", "label": "Mar 7, 2022"}]},
 "mark": {"type": "text", "fontSize": 13, "color": "#2a3f5f", "baseline": "middle", "dy": 26},
 "encoding": {"x": {"field": "mt", "type": "temporal"}, "y": {"datum": 20374}, "text": {"field": "label"}}}
]},
{"mark": {"type": "bar", "size": 1.3, "opacity": 0.3},
 "encoding": {
  "x": {"field": "t", "type": "temporal"},
  "y": {"field": "v", "type": "quantitative", "scale": {"domain": [-573, 120960], "nice": false, "zero": false},
   "axis": {"title": "Volume", "orient": "right", "values": [0, 20000, 40000, 60000, 80000, 100000, 120000], "format": "~s", "grid": false, "domain": false, "ticks": false, "labelPadding": 2, "labelFontSize": 13, "labelColor": "#2a3f5f", "titleFontSize": 14, "titleFontWeight": "bold", "titleColor": "#2a3f5f", "titlePadding": 15}},
  "color": {"condition": {"test": "datum.c > datum.o", "value": "#ff0000"}, "value": "#0000ff"}
 }}
],
"resolve": {"scale": {"y": "independent"}}
},
{
"width": 829, "height": 120,
"layer": [
{"layer": [
{"mark": {"type": "rule", "strokeWidth": 2},
 "encoding": {
  "x": {"field": "t", "type": "temporal",
   "scale": {"padding": 0, "domain": [{"year": 2022, "month": 3, "date": 7, "hours": 8, "minutes": 57, "seconds": 37}, {"year": 2022, "month": 3, "date": 7, "hours": 15, "minutes": 32, "seconds": 23}]},
   "axis": null},
  "y": {"field": "l", "type": "quantitative", "scale": {"domain": [20374, 24579], "nice": false, "zero": false}, "axis": null},
  "y2": {"field": "h"},
  "color": {"condition": {"test": "datum.c > datum.o", "value": "#ff0000"}, "value": "#0000ff"}
 }},
{"mark": {"type": "bar", "size": 3.4},
 "encoding": {
  "x": {"field": "t", "type": "temporal"},
  "y": {"field": "o", "type": "quantitative"},
  "y2": {"field": "c"},
  "color": {"condition": {"test": "datum.c > datum.o", "value": "#ff0000"}, "value": "#0000ff"}
 }},
{"mark": {"type": "tick", "orient": "horizontal", "size": 3.4, "thickness": 2},
 "encoding": {
  "x": {"field": "t", "type": "temporal"},
  "y": {"field": "c", "type": "quantitative"},
  "color": {"condition": {"test": "datum.c > datum.o", "value": "#ff0000"}, "value": "#0000ff"}
 }},
{"data": {"values": [{"a": "2022-03-07T08:58:06", "b": "2022-03-07T09:00:29", "lo": 21425, "hi": 23528}, {"a": "2022-03-07T15:30:00", "b": "2022-03-07T15:31:54", "lo": 21425, "hi": 23528}]},
 "mark": {"type": "rect", "fill": "#ffffff", "stroke": "#444444", "strokeWidth": 1},
 "encoding": {"x": {"field": "a", "type": "temporal"}, "x2": {"field": "b"}, "y": {"field": "lo", "type": "quantitative"}, "y2": {"field": "hi"}}}
]},
{"mark": {"type": "bar", "size": 1.3, "opacity": 0.3},
 "encoding": {
  "x": {"field": "t", "type": "temporal"},
  "y": {"field": "v", "type": "quantitative", "scale": {"domain": [-573, 120960], "nice": false, "zero": false}, "axis": null},
  "color": {"condition": {"test": "datum.c > datum.o", "value": "#ff0000"}, "value": "#0000ff"}
 }}
],
"resolve": {"scale": {"y": "independent"}}
}
],
"config": {
 "view": {"fill": "#E5ECF6", "stroke": null},
 "font": "Open Sans",
 "axis": {"labelFont": "Open Sans", "titleFont": "Open Sans"}
}
}
